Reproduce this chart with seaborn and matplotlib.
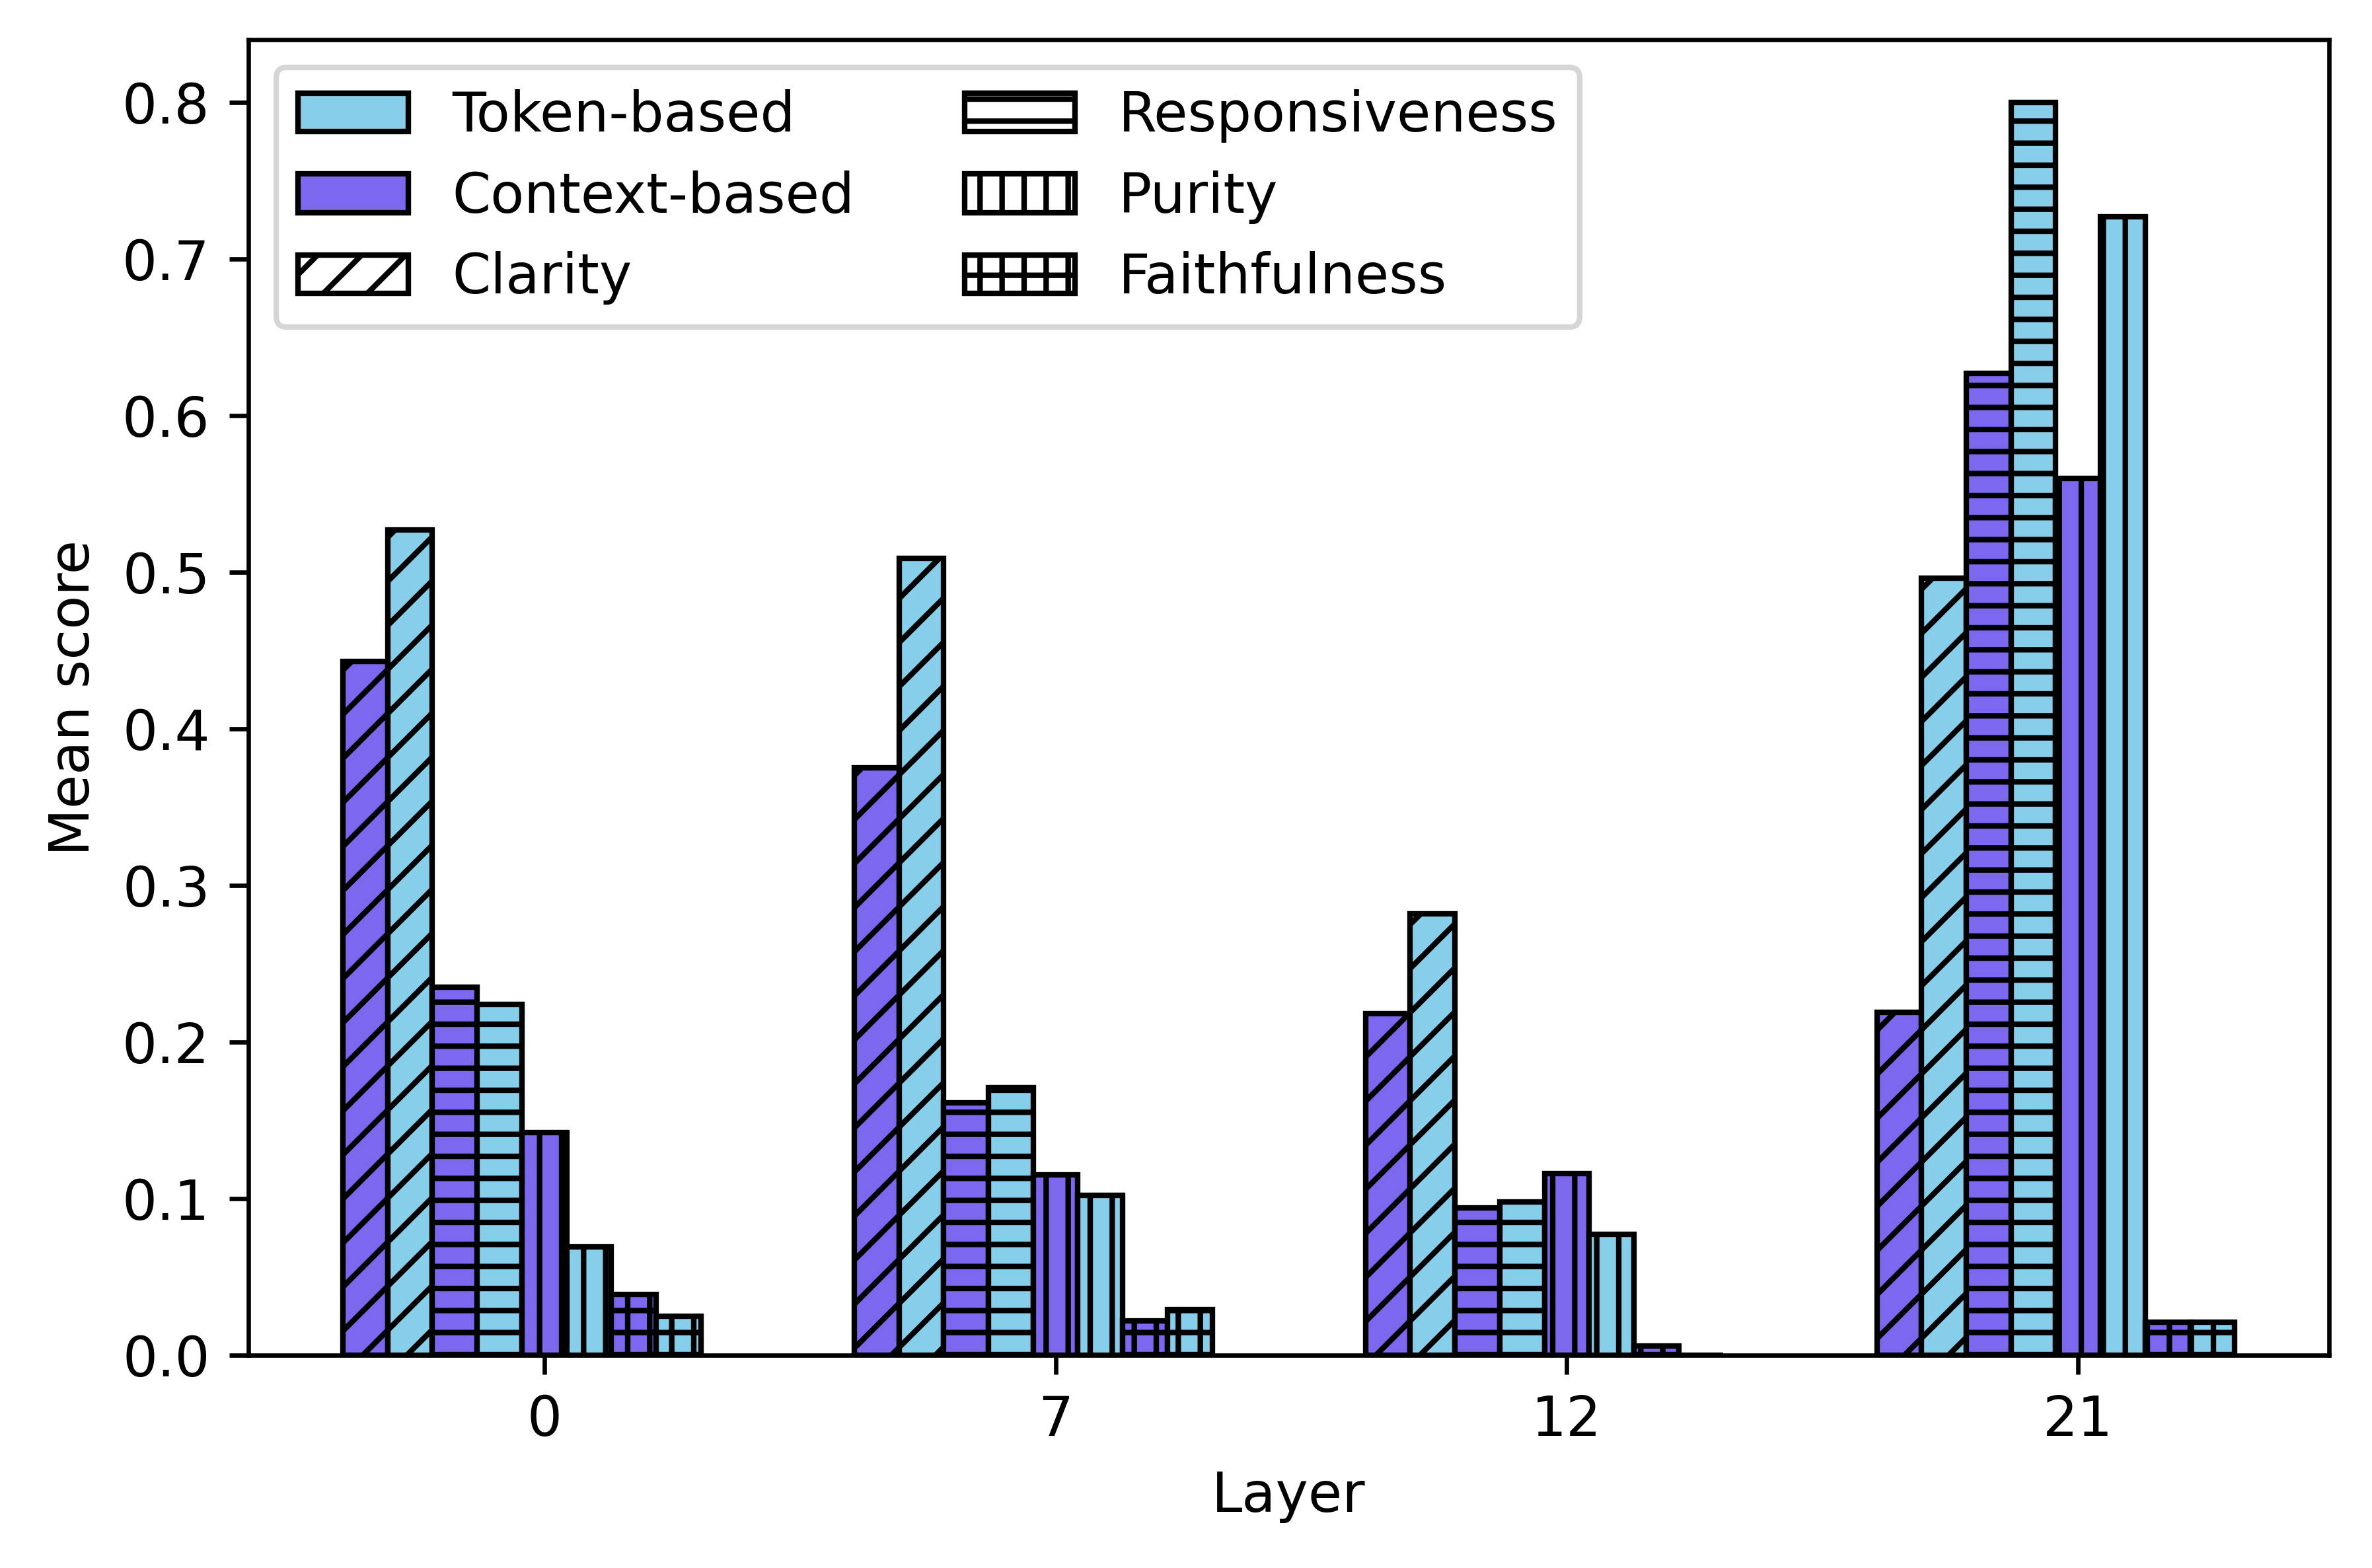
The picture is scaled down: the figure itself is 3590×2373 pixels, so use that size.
import numpy as np
import pandas as pd
import seaborn as sns
import matplotlib.pyplot as plt
from matplotlib.patches import Patch

plt.rcParams['font.size'] = 10
plt.rcParams['hatch.linewidth'] = 1.0

# mean scores per layer
layers = ["0", "7", "12", "21"]
context_clarity = [0.443, 0.375, 0.218, 0.219]
token_clarity = [0.527, 0.509, 0.282, 0.496]
context_resp = [0.235, 0.161, 0.094, 0.627]
token_resp = [0.224, 0.171, 0.098, 0.800]
context_purity = [0.142, 0.115, 0.116, 0.560]
token_purity = [0.069, 0.102, 0.077, 0.727]
context_faith = [0.039, 0.022, 0.006, 0.021]
token_faith = [0.025, 0.029, 0.0, 0.021]

metrics = ["Clarity", "Responsiveness", "Purity", "Faithfulness"]
hatches = {"Clarity": "///", "Responsiveness": "---", "Purity": "|||", "Faithfulness": "+++"}
colors = {"Token-based": "#87CEEB", "Context-based": "#7B68EE"}

series = [
    ("Context-based", "Clarity", context_clarity),
    ("Token-based", "Clarity", token_clarity),
    ("Context-based", "Responsiveness", context_resp),
    ("Token-based", "Responsiveness", token_resp),
    ("Context-based", "Purity", context_purity),
    ("Token-based", "Purity", token_purity),
    ("Context-based", "Faithfulness", context_faith),
    ("Token-based", "Faithfulness", token_faith),
]

rows = []
for method, metric, vals in series:
    for layer, v in zip(layers, vals):
        rows.append(dict(layer=layer, key=method + " " + metric, score=v))
df = pd.DataFrame(rows)
hue_order = [m + " " + k for m, k, _ in series]
palette = {m + " " + k: colors[m] for m, k, _ in series}

fig = plt.figure(figsize=(3590 / 600, 2373 / 600), dpi=600)
ax = fig.add_axes([0.1047, 0.1357, 0.982 - 0.1047, 0.9747 - 0.1357])

sns.barplot(data=df, x="layer", y="score", hue="key", order=layers,
            hue_order=hue_order, palette=palette, saturation=1,
            width=0.7, errorbar=None, legend=False,
            edgecolor="black", linewidth=1, ax=ax)

# hatch by metric, and shift each group half a bar to the left
for cont, (method, metric, _) in zip(ax.containers, series):
    for p in cont.patches:
        p.set_hatch(hatches[metric])
        p.set_x(p.get_x() - p.get_width() / 2)

lefts = [p.get_x() for p in ax.patches]
rights = [p.get_x() + p.get_width() for p in ax.patches]
span = max(rights) - min(lefts)
ax.set_xlim(min(lefts) - 0.05 * span, max(rights) + 0.05 * span)
ax.set_ylim(0, 0.84)
ax.set_yticks(np.arange(0, 0.81, 0.1))

ax.set_xlabel("Layer")
ax.set_ylabel("Mean score")

handles = [
    Patch(facecolor=colors["Token-based"], edgecolor="black", label="Token-based"),
    Patch(facecolor=colors["Context-based"], edgecolor="black", label="Context-based"),
]
for m in metrics:
    handles.append(Patch(facecolor="white", edgecolor="black", hatch=hatches[m], label=m))
ax.legend(handles=handles, loc="upper left", ncol=2)

fig.savefig("out.png", dpi=600)
